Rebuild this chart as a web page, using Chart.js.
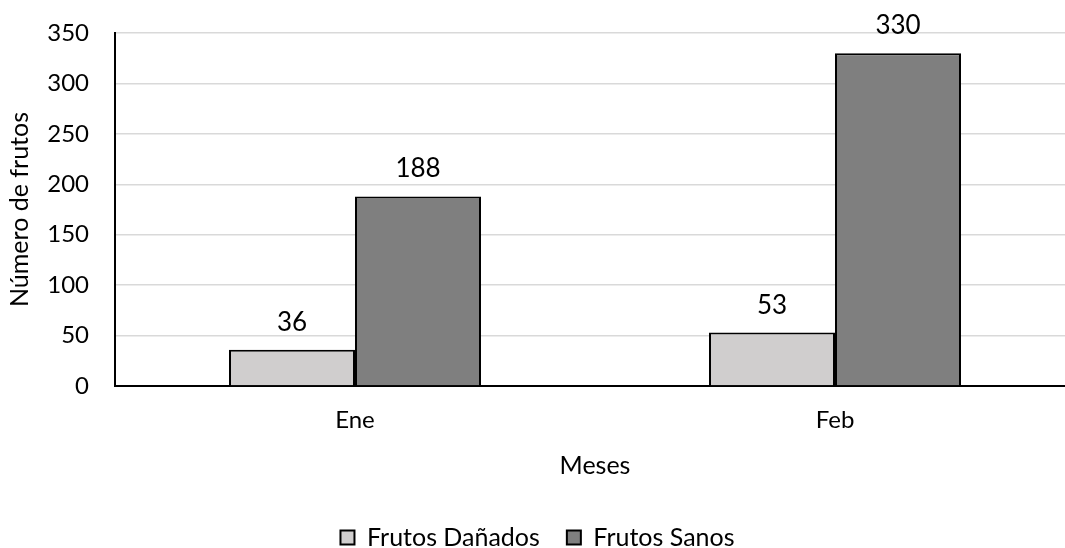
<!DOCTYPE html>
<html>
<head>
<meta charset="utf-8">
<script src="https://cdn.jsdelivr.net/npm/chart.js@4.4.1/dist/chart.umd.min.js"></script>
<style>
  html, body { margin: 0; padding: 0; background: #fff; overflow: hidden; }
  #wrap { width: 1065px; height: 548px; overflow: hidden; }
</style>
</head>
<body>
<div id="wrap"><canvas id="c" width="1075" height="560"></canvas></div>
<script>
const categories = ['Ene', 'Feb'];
const frutosDanados = [36, 53];
const frutosSanos = [188, 330];
const seriesNames = ['Frutos Dañados', 'Frutos Sanos'];
const yTicks = [0, 50, 100, 150, 200, 250, 300, 350];

const FONT = 'Lato, "Open Sans", sans-serif';

// Writes each bar's value centred above it
const valueLabels = {
  id: 'valueLabels',
  afterDatasetsDraw(chart) {
    const ctx = chart.ctx;
    ctx.save();
    ctx.font = '26px ' + FONT;
    ctx.fillStyle = '#000';
    ctx.textAlign = 'center';
    ctx.textBaseline = 'alphabetic';
    chart.data.datasets.forEach((ds, i) => {
      chart.getDatasetMeta(i).data.forEach((bar, j) => {
        ctx.fillText(String(ds.data[j]), bar.x, bar.y - 19);
      });
    });
    ctx.restore();
  }
};

new Chart(document.getElementById('c'), {
  type: 'bar',
  data: {
    labels: categories,
    datasets: [
      { label: seriesNames[0], data: frutosDanados, backgroundColor: '#d0cece', borderColor: '#000', borderWidth: 2 },
      { label: seriesNames[1], data: frutosSanos, backgroundColor: '#7f7f7f', borderColor: '#000', borderWidth: 2 }
    ]
  },
  options: {
    responsive: false,
    animation: false,
    layout: { padding: { top: 33, right: 0, left: 0, bottom: 0 } },
    datasets: { bar: { categoryPercentage: 0.525, barPercentage: 1 } },
    scales: {
      x: {
        grid: { display: false },
        border: { color: '#000', width: 2 },
        ticks: { color: '#000', font: { family: FONT, size: 24 }, padding: 12 },
        title: { display: true, text: 'Meses', color: '#000', font: { family: FONT, size: 25 }, padding: { top: 0, bottom: 17 } },
        afterFit(s) { s.height = 112; }
      },
      y: {
        min: 0, max: 350,
        afterBuildTicks(s) { s.ticks = yTicks.map(v => ({ value: v })); },
        grid: { color: '#d9d9d9', lineWidth: 1.5, drawTicks: false },
        border: { color: '#000', width: 2 },
        ticks: { color: '#000', font: { family: FONT, size: 24 }, padding: 26 },
        title: { display: true, text: 'Número de frutos', color: '#000', font: { family: FONT, size: 25 }, padding: { top: 5, bottom: 0 } },
        afterFit(s) { s.width = 115; s.paddingTop = 0; s.paddingBottom = 0; }
      }
    },
    plugins: {
      legend: {
        position: 'bottom',
        labels: {
          color: '#000',
          font: { family: FONT, size: 25 },
          boxWidth: 14, boxHeight: 14,
          padding: 27,
          useBorderRadius: false
        }
      },
      tooltip: { enabled: false }
    }
  },
  plugins: [valueLabels]
});
</script>
</body>
</html>
